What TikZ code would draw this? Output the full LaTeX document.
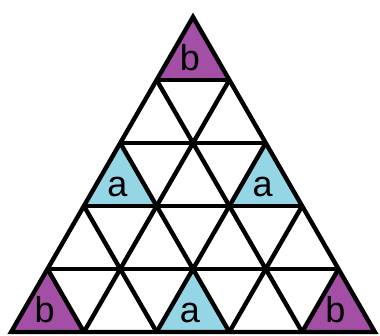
\documentclass[tikz,border=0pt]{standalone}
\usepackage{fontspec}
\setmainfont{Liberation Sans}
\usetikzlibrary{calc}
\definecolor{tripurple}{RGB}{163,79,166}
\definecolor{triblue}{RGB}{148,214,229}

\begin{document}
\begin{tikzpicture}[
    x=1pt, y=-1pt,
    grid/.style={draw, line width=4.4pt},
    lbl/.style={font=\fontsize{36}{40}\selectfont, anchor=base,
                inner sep=0pt}
  ]
  \useasboundingbox (0,0) rectangle (380,336);

  % lattice points, row j from the apex
  \foreach \j in {0,...,5} {
    \foreach \i in {0,...,\j} {
      \coordinate (p-\i-\j) at ({193+(\i-\j/2)*72.74}, {17+\j*63});
    }
  }

  % coloured triangles
  \foreach \r/\k/\col/\txt in {1/0/tripurple/b, 3/0/triblue/a,
      3/2/triblue/a, 5/0/tripurple/b, 5/2/triblue/a, 5/4/tripurple/b} {
    \pgfmathtruncatemacro{\rr}{\r-1}
    \pgfmathtruncatemacro{\kk}{\k+1}
    \fill[\col] (p-\k-\rr) -- (p-\k-\r) -- (p-\kk-\r) -- cycle;
    \node[lbl] (lbl-\r-\k) at ($(p-\k-\r)!0.5!(p-\kk-\r) + (-3,-9.5)$)
      {\txt};
  }

  % inner lines
  \foreach \j in {1,...,4} {
    \pgfmathtruncatemacro{\jj}{5-\j}
    \draw[grid] (p-0-\j) -- (p-\j-\j);
    \draw[grid] (p-\j-\j) -- (p-\j-5);
    \draw[grid] (p-0-\j) -- (p-\jj-5);
  }

  % outer edge
  \draw[grid, line join=miter] (p-0-0) -- (p-0-5) -- (p-5-5) -- cycle;
\end{tikzpicture}
\end{document}
